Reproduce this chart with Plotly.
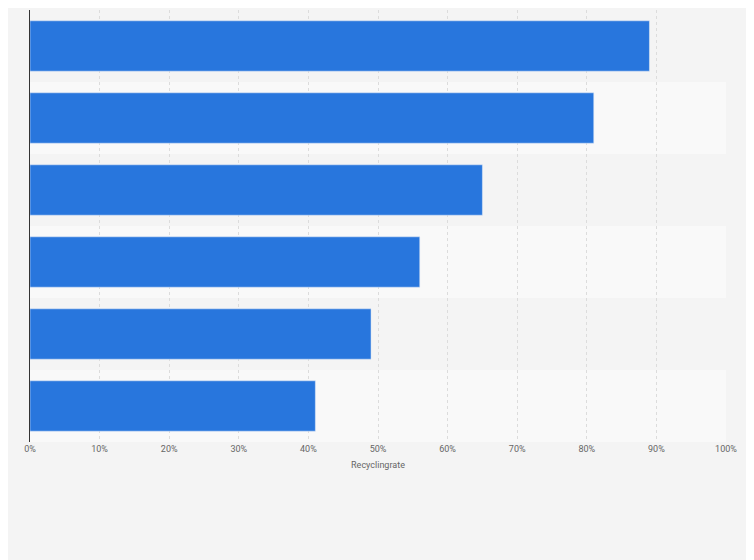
import plotly.graph_objects as go

categories = ["Cat 1", "Cat 2", "Cat 3", "Cat 4", "Cat 5", "Cat 6"]
values = [89, 81, 65, 56, 49, 41]
tick_vals = [0, 10, 20, 30, 40, 50, 60, 70, 80, 90, 100]
tick_text = [f"{v}%" for v in tick_vals]

fig = go.Figure(go.Bar(x=values, y=categories, orientation="h",
                       marker_color="#2876dd", hoverinfo="x+y"))

shapes = []
for i, c in enumerate(categories):
    shapes.append(dict(type="rect", xref="paper", yref="y", x0=0, x1=1,
                       y0=i - 0.5, y1=i + 0.5, layer="below", line_width=0,
                       fillcolor="#f4f4f4" if i % 2 == 0 else "#f9f9f9"))

fig.update_layout(
    width=754, height=560, margin=dict(l=22, r=36, t=2, b=126),
    paper_bgcolor="#f4f4f4", plot_bgcolor="#f4f4f4",
    bargap=0.3, showlegend=False, shapes=shapes,
    font=dict(family="Roboto, Arial", color="#666666", size=9),
    xaxis=dict(range=[0, 100], tickvals=tick_vals, ticktext=tick_text,
               showgrid=True, gridcolor="#dcdcdc", griddash="dot",
               zeroline=False, fixedrange=True,
               title=dict(text="Recyclingrate", font=dict(size=9, color="#666666"), standoff=8)),
    yaxis=dict(categoryorder="array", categoryarray=categories,
               autorange="reversed", showticklabels=False, showline=True,
               linecolor="#333333", linewidth=1, showgrid=False),
)
fig.write_html("out.html")
